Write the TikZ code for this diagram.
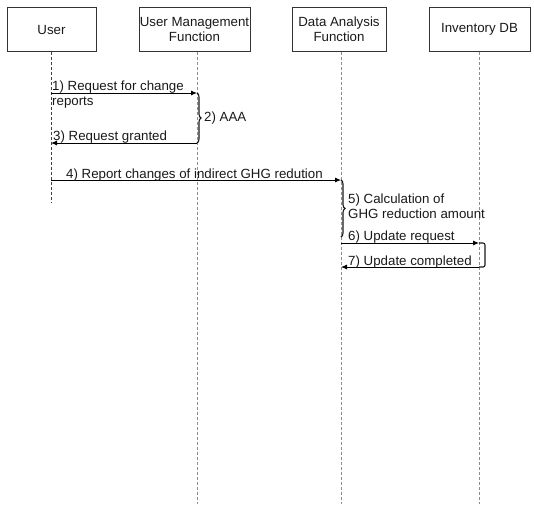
\documentclass[tikz,border=0pt]{standalone}
\usepackage{fontspec}
\setmainfont{Liberation Sans}
\usetikzlibrary{arrows.meta,decorations.pathreplacing}
\begin{document}
\begin{tikzpicture}[x=1pt,y=-1pt,
  font=\fontsize{13.3}{15}\selectfont,
  actor/.style={draw=black!80,line width=0.9pt,minimum height=44pt,align=center,inner sep=0pt,text=black!90},
  lifeline/.style={draw=black!45,line width=0.8pt,dash pattern=on 3pt off 2pt},
  msg/.style={draw=black,line width=0.9pt,-{Latex[length=6pt,width=5pt]}},
  lbl/.style={inner sep=0pt,text=black!90,align=left},
  selfcall/.style={draw=black!90,line width=1.1pt}
]
\useasboundingbox (0,0) rectangle (534,504);

% participants
\node[actor,minimum width=89pt] (user) at (51.5,29.5) {User};
\node[actor,minimum width=111pt] (umf) at (194.5,29.5) {User Management\\Function};
\node[actor,minimum width=94pt] (daf) at (339,29.5) {Data Analysis\\Function};
\node[actor,minimum width=101pt] (inv) at (479.5,29.5) {Inventory DB};

% lifelines
\coordinate (uX) at (51,203);
\coordinate (mX) at (197,504);
\coordinate (dX) at (341,504);
\coordinate (iX) at (479,504);
\draw[lifeline,draw=black!75] (user.south -| uX) -- (uX);
\draw[lifeline] (umf.south -| mX) -- (mX);
\draw[lifeline] (daf.south -| dX) -- (dX);
\draw[lifeline] (inv.south -| iX) -- (iX);

% message end points
\coordinate (u1) at (51,93);   \coordinate (m1) at (197,93);
\coordinate (u3) at (51,143);  \coordinate (m3) at (197,143);
\coordinate (u4) at (51,180);  \coordinate (d4) at (341,180);
\coordinate (d5) at (341,237);
\coordinate (d6) at (341,243); \coordinate (i6) at (479,243);
\coordinate (d7) at (341,267); \coordinate (i7) at (479,267);

% 1) request
\draw[msg] (u1) -- (m1);
\node[lbl,anchor=base west] (l1a) at (52,90) {1) Request for change};
\node[lbl,anchor=base west] (l1b) at (52,105) {reports};

% 2) AAA
\draw[selfcall,decorate,decoration={brace,amplitude=4pt}] (m1) -- (m3);
\node[lbl,anchor=west] (l2) at (204,118) {2) AAA};

% 3) granted
\draw[msg] (m3) -- (u3);
\node[lbl,anchor=base west] (l3) at (53,140) {3) Request granted};

% 4) report changes
\draw[msg] (u4) -- (d4);
\node[lbl,anchor=base west] (l4) at (66,178) {4) Report changes of indirect GHG redution};

% 5) calculation
\draw[selfcall,decorate,decoration={brace,amplitude=4pt}] (d4) -- (d5);
\node[lbl,anchor=base west] (l5a) at (348,203) {5) Calculation of};
\node[lbl,anchor=base west] (l5b) at (348,218) {GHG reduction amount};

% 6) update request
\draw[msg] (d6) -- (i6);
\node[lbl,anchor=base west] (l6) at (348,240) {6) Update request};

% 7) update completed
\draw[selfcall,rounded corners=2pt] (i6) -- ++(6,0) -- ++(0,24) -- (i7);
\draw[msg] (i7) -- (d7);
\node[lbl,anchor=base west] (l7) at (348,265) {7) Update completed};
\end{tikzpicture}
\end{document}
